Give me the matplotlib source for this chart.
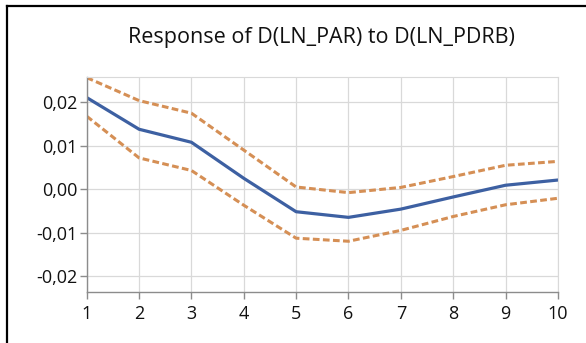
import matplotlib.pyplot as plt
from matplotlib.lines import Line2D

# impulse response values
periods = [1, 2, 3, 4, 5, 6, 7, 8, 9, 10]
response = [0.0211, 0.0138, 0.0108, 0.0025, -0.0052, -0.0065, -0.0046, -0.0018, 0.0009, 0.0021]
upper = [0.0257, 0.0204, 0.0175, 0.0090, 0.0005, -0.0008, 0.0004, 0.0029, 0.0055, 0.0064]
lower = [0.0168, 0.0072, 0.0043, -0.0037, -0.0113, -0.0120, -0.0095, -0.0063, -0.0036, -0.0021]
yticks = [0.02, 0.01, 0.0, -0.01, -0.02]
ytick_labels = ['0,02', '0,01', '0,00', '-0,01', '-0,02']
title = "Response of D(LN_PAR) to D(LN_PDRB)"

plt.rcParams['font.family'] = ['Open Sans', 'DejaVu Sans']

fig = plt.figure(figsize=(5.86, 3.43), dpi=100)
ax = fig.add_axes([0.148, 0.148, 0.804, 0.627])

ax.plot(periods, upper, color='#d58f55', lw=2.2, dashes=(2.2, 1.1))
ax.plot(periods, lower, color='#d58f55', lw=2.2, dashes=(2.2, 1.1))
ax.plot(periods, response, color='#3d60a2', lw=2.3)

ax.set_xlim(1, 10)
ax.set_ylim(-0.02375, 0.0258)
ax.set_xticks(periods)
ax.set_yticks(yticks)
ax.set_yticklabels(ytick_labels)
ax.grid(True, color='#d9d9d9', lw=0.9)
ax.set_axisbelow(True)

for side in ['top', 'right']:
    ax.spines[side].set_color('#d9d9d9')
for side in ['left', 'bottom']:
    ax.spines[side].set_color('#8c8c8c')
    ax.spines[side].set_linewidth(1.0)
ax.tick_params(axis='both', colors='#8c8c8c', length=5, width=1.0,
               labelsize=13, labelcolor='#111111')
ax.tick_params(axis='y', pad=2)
ax.tick_params(axis='x', pad=4)

fig.text(0.548, 0.891, title, ha='center', va='center', fontsize=15.5, color='#111111')

# outer frame
fig.add_artist(Line2D([0.012, 0.012], [0, 0.982], color='black', lw=1.6, transform=fig.transFigure))
fig.add_artist(Line2D([0.012, 1.0], [0.982, 0.982], color='black', lw=1.6, transform=fig.transFigure))

fig.savefig('out.png', dpi=100)
